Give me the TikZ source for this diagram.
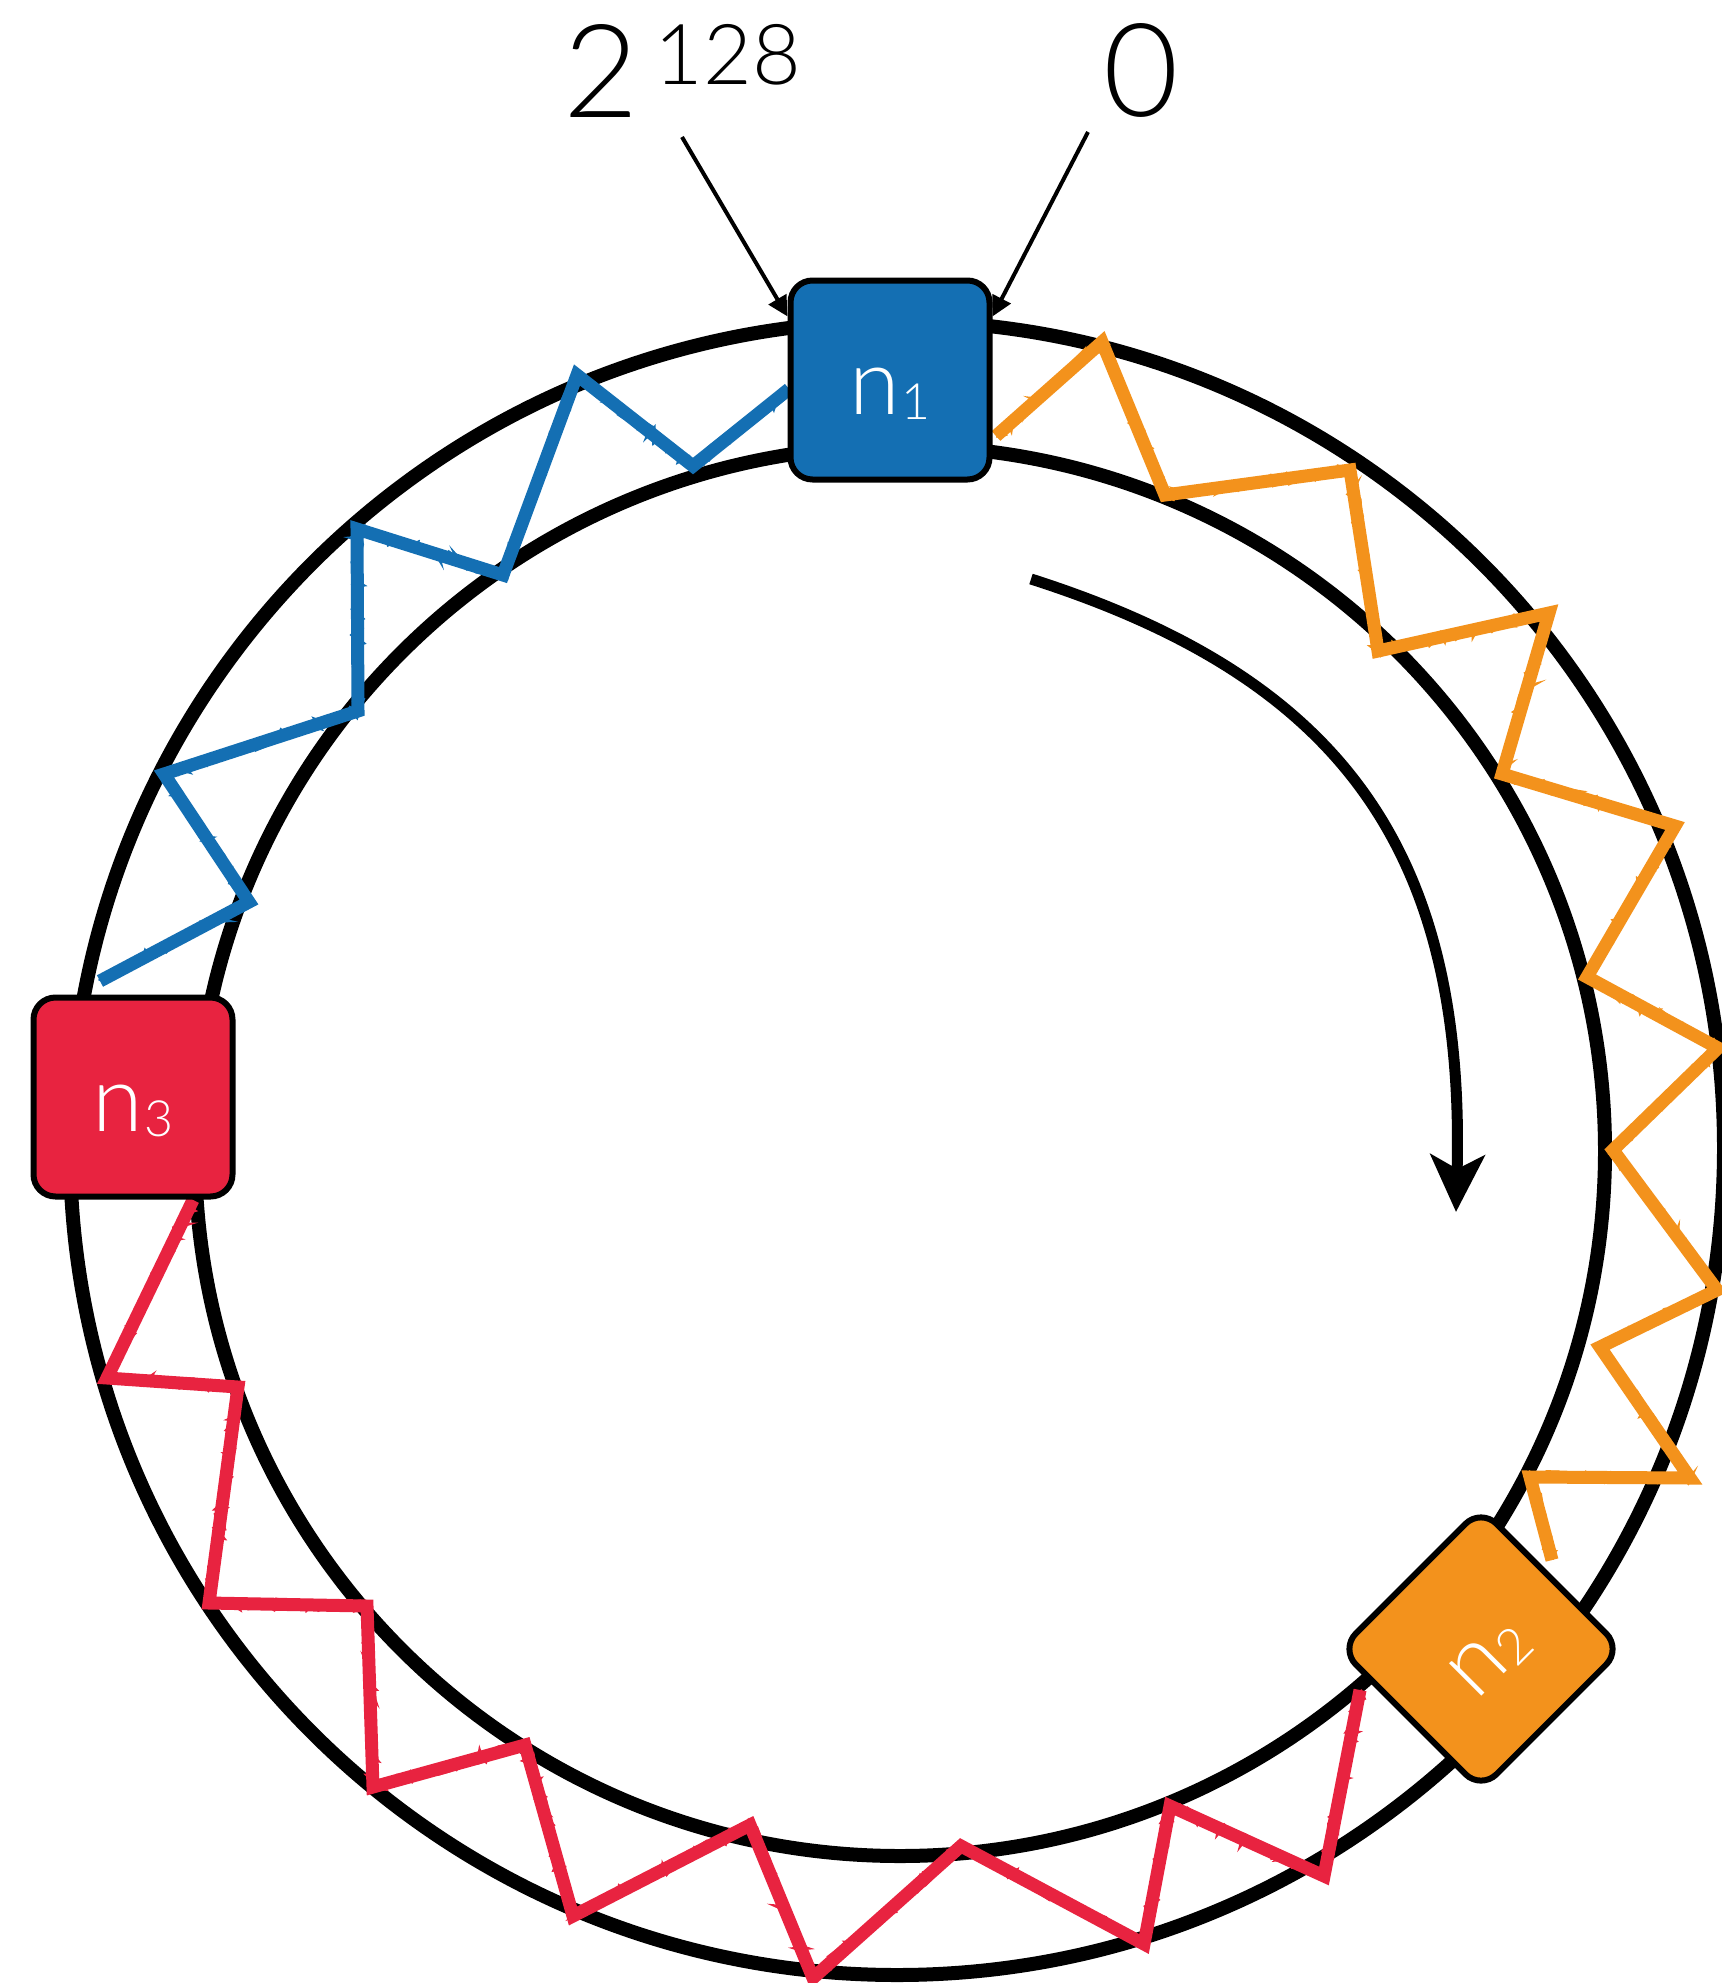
\documentclass[tikz,border=0pt]{standalone}
\usepackage{fontspec}
\usetikzlibrary{arrows.meta,calc,decorations.pathmorphing}
\IfFontExistsTF{Lato Light}{\newfontfamily\lightsans{Lato Light}}{\newfontfamily\lightsans{Lato}}

\definecolor{ringblue}{RGB}{20,111,179}
\definecolor{ringorange}{RGB}{243,146,28}
\definecolor{ringred}{RGB}{232,35,64}

\newcommand{\nodelabel}[1]{\lightsans\fontsize{92}{92}\selectfont n\kern1pt\raisebox{-5pt}{\fontsize{50}{50}\selectfont #1}}

% zig-zag key ranges between neighbouring nodes
\def\bluerange{(789,389) -- (693,466) -- (577,375) -- (503,575) -- (357,529)
  -- (358,711) -- (164,774) -- (249,902) -- (100,981)}
\def\orangerange{(996,436) -- (1102,342) -- (1165,495) -- (1350,470) -- (1378,651)
  -- (1549,613) -- (1502,774) -- (1675,826) -- (1587,977) -- (1718,1048) -- (1613,1150)
  -- (1717,1290) -- (1600,1347) -- (1690,1478) -- (1530,1477) -- (1552,1560)}
\def\redrange{(193,1200) -- (107,1378) -- (238,1387) -- (209,1603) -- (367,1606)
  -- (373,1787) -- (525,1745) -- (573,1916) -- (750,1825) -- (813,1978) -- (961,1846)
  -- (1144,1944) -- (1170,1806) -- (1324,1876) -- (1360,1690)}

\begin{document}
\begin{tikzpicture}[x=1pt,y=-1pt,
  ring/.style={line width=14pt},
  seg/.style={line width=13pt, line join=miter, miter limit=10},
  rough/.style={line width=4pt, decorate,
    decoration={random steps, segment length=5pt, amplitude=5pt}},
  hashbox/.style={draw=black, line width=6pt, rounded corners=22pt,
    minimum size=199pt, inner sep=0pt, text=white,
    text height=68pt, text depth=0pt},
  ptr/.style={line width=4pt, -{Triangle[length=20pt,width=20pt]}},
  flow/.style={line width=11pt, -{Stealth[length=57pt,width=54pt,inset=14pt]}},
  biglabel/.style={inner sep=0pt, anchor=base, font=\lightsans\fontsize{130}{130}\selectfont}
]
\useasboundingbox (0,0) rectangle (1721,1983);
\fill[white] (0,0) rectangle (1721,1983);
\pgfmathsetseed{7}

% the two rings
\draw[ring] (897,1148) circle[radius=827pt];
\draw[ring] (900,1151) circle[radius=705pt];

% node positions
\coordinate (c1) at (890,380);
\coordinate (c2) at (1481,1649);
\coordinate (c3) at (133,1097);

% crayon-like zig-zags
\foreach \col/\pth in {ringblue/\bluerange, ringorange/\orangerange, ringred/\redrange}{
  \draw[seg, \col] \pth;
  \draw[rough, \col] \pth;
}

% direction of the ring
\coordinate (flowstart) at (1031,579);
\coordinate (flowend) at (1456,1212);
\draw[flow] (flowstart) .. controls (1331,675) and (1466,840) .. (flowend);

% nodes
\node[hashbox, fill=ringblue] (n1) at (c1) {\nodelabel{1}};
\node[hashbox, fill=ringred] (n3) at (c3) {\nodelabel{3}};
\node[hashbox, fill=ringorange, rotate=45] (n2) at (c2) {\nodelabel{2}};

% range labels
\node[biglabel] (lab128) at (682,118) {2\kern16pt\raisebox{33pt}{\fontsize{84}{84}\selectfont 128}};
\node[biglabel] (lab0) at (1141,117) {0};

\draw[ptr] ($(lab128.base)+(0,19)$) -- ($(n1.north west)!0.19!(n1.south west)$);
\draw[ptr] ($(lab0.base)+(-53,15)$) -- ($(n1.north east)!0.19!(n1.south east)$);
\end{tikzpicture}
\end{document}
